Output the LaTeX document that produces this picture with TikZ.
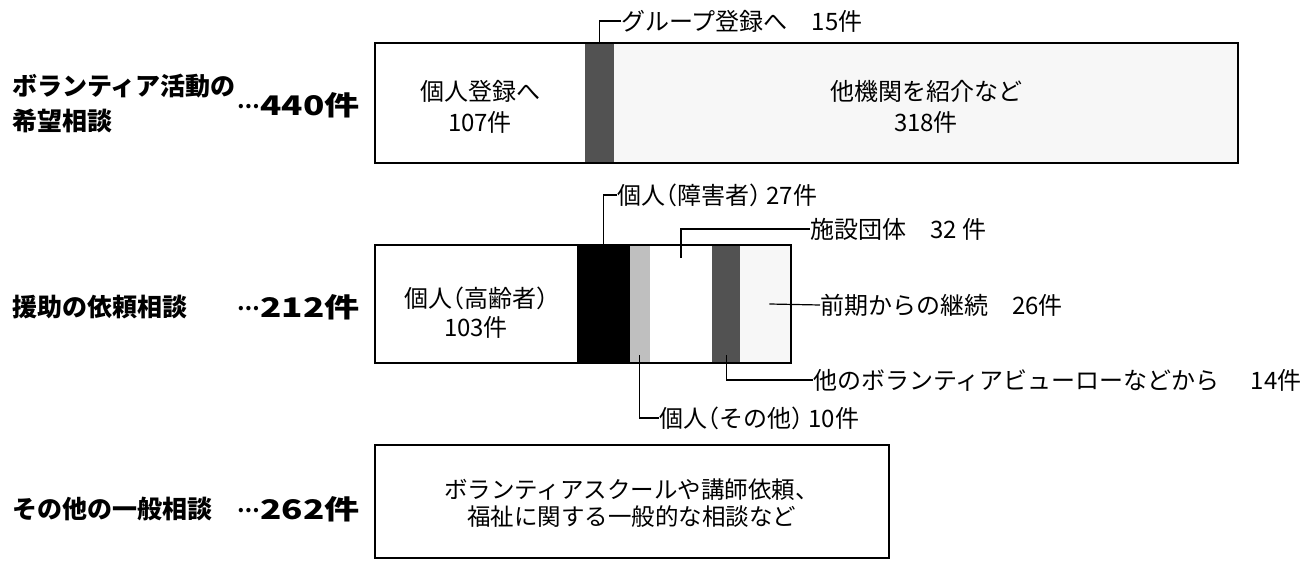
\documentclass[tikz,border=0pt]{standalone}
\usepackage{graphicx}
\usepackage{fontspec}
\setmainfont{Noto Sans CJK JP}
\newcommand{\jlp}{{\addfontfeature{CharacterWidth=AlternateHalf}（}}
\newcommand{\jrp}{{\addfontfeature{CharacterWidth=AlternateHalf}）}}
\newcommand{\middots}{{\bfseries\fontsize{20}{20}\selectfont\raisebox{0.36em}{…}}}
\newcommand{\numtxt}[1]{\middots\hspace{1pt}\scalebox{1.3}[1]{#1}}
\begin{document}
\begin{tikzpicture}[x=1pt,y=-1pt,
  seg/.style={draw=none, inner sep=0pt, outer sep=0pt, anchor=north west, minimum height=118},
  frame/.style={draw=black, line width=1.6pt, fill=none, inner sep=0pt, outer sep=0pt, anchor=north west},
  lead/.style={draw=black, line width=1.2pt},
  lab/.style={inner sep=0pt, anchor=west, font=\fontsize{24}{28}\selectfont},
  cat/.style={inner sep=0pt, anchor=west, align=left, font=\fontsize{25}{35}\selectfont\bfseries},
  num/.style={inner sep=0pt, anchor=east, font=\fontsize{27}{27}\selectfont\bfseries},
  btxt/.style={inner sep=0pt, align=center}
]
\useasboundingbox (0,0) rectangle (1302,562);
\fill[white] (0,0) rectangle (1302,562);

% ---------- row 1 ----------
\node[seg, fill=white,    minimum width=209.9, minimum height=120] (a1) at (375,43) {};
\node[seg, fill=black!68, minimum width=29.4,  minimum height=120] (a2) at (584.9,43) {};
\node[seg, fill=black!3,  minimum width=623.7, minimum height=120] (a3) at (614.3,43) {};
\node[frame, minimum width=863, minimum height=120] (box1) at (375,43) {};
\node[btxt, font=\fontsize{24}{31}\selectfont] (t1) at (480,107) {個人登録へ\\107件};
\node[btxt, font=\fontsize{24}{31}\selectfont] (t3) at (926,107) {他機関を紹介など\\318件};
\node[lab] (l2) at (621,21) {グループ登録へ　15件};
\draw[lead] (l2.west) -| (a2.north);
\node[cat] (c1) at (12,103) {ボランティア活動の\\希望相談};
\node[num] (n1) at (360,105) {\numtxt{440件}};

% ---------- row 2 ----------
\node[seg, fill=white,    minimum width=202.0] (b1) at (375,245) {};
\node[seg, fill=black,    minimum width=53.0]  (b2) at (577.0,245) {};
\node[seg, fill=black!25, minimum width=19.6]  (b3) at (630.0,245) {};
\node[seg, fill=white,    minimum width=62.8]  (b4) at (649.6,245) {};
\node[seg, fill=black!68, minimum width=27.5]  (b5) at (712.4,245) {};
\node[seg, fill=black!3,  minimum width=51.0]  (b6) at (739.9,245) {};
\node[frame, minimum width=415.9, minimum height=118] (box2) at (375,245) {};
\node[btxt, font=\fontsize{24}{29}\selectfont] (u1) at (476,313) {個人\jlp 高齢者\jrp\\103件};
\node[lab] (m2) at (617,195) {個人\jlp 障害者\jrp\ 27件};
\node[lab] (m4) at (810,229) {施設団体　32 件};
\node[lab] (m6) at (820,305) {前期からの継続　26件};
\node[lab] (m5) at (813,380) {他のボランティアビューローなどから\hspace{1.3em}14件};
\node[lab] (m3) at (659,418) {個人\jlp その他\jrp\ 10件};
\draw[lead] (m2.west) -| (b2.north);
\draw[lead] ([yshift=-13pt]b4.north) |- (m4.west);
\draw[lead] ([xshift=4pt]b6.center) -- (m6.west);
\draw[lead] ([yshift=8pt]b5.south) |- (m5.west);
\draw[lead] ([yshift=8pt]b3.south) |- (m3.west);
\node[cat] (c2) at (12,307) {援助の依頼相談};
\node[num] (n2) at (360,307) {\numtxt{212件}};

% ---------- row 3 ----------
\node[frame, minimum width=513.9, minimum height=113] (box3) at (375,445) {};
\node[btxt, font=\fontsize{23.5}{27}\selectfont] (v1) at (631.5,503) {ボランティアスクールや講師依頼、\\福祉に関する一般的な相談など};
\node[cat] (c3) at (12,509) {その他の一般相談};
\node[num] (n3) at (360,509) {\numtxt{262件}};
\end{tikzpicture}
\end{document}
